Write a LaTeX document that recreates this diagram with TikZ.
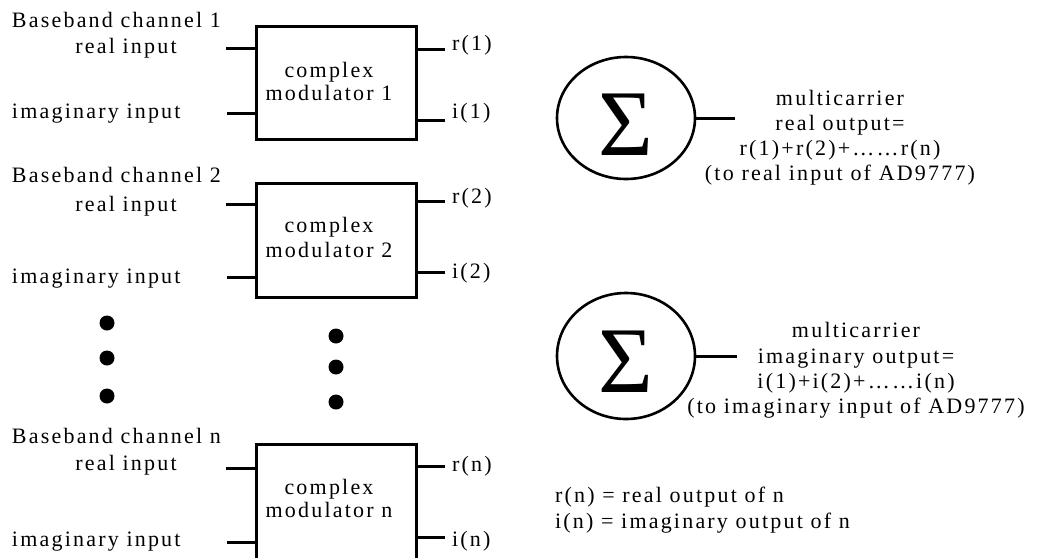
\documentclass[tikz,border=0pt]{standalone}
\usepackage{fontspec}
\setmainfont{Liberation Serif}[LetterSpace=10]
\newfontfamily\sigfont{Liberation Serif}
\usetikzlibrary{shapes.geometric}
\begin{document}
\begin{tikzpicture}[x=1pt,y=-1pt,
  lbl/.style={font=\fontsize{22}{25}\selectfont, inner sep=0pt, outer sep=0pt},
  modbox/.style={draw, line width=3pt, minimum width=160pt, inner sep=0pt, outer sep=0pt},
  wire/.style={line width=3pt},
  sumnode/.style={draw, ellipse, line width=2.6pt, minimum width=138pt, inner sep=0pt, outer sep=0pt},
  sigma/.style={font=\sigfont\fontsize{94}{94}\selectfont, inner sep=0pt},
  dotnode/.style={circle, fill, minimum size=15pt, inner sep=0pt}]
\useasboundingbox (0,0) rectangle (1043,557);
\clip (0,0) rectangle (1043,557);

% modulator boxes
\node[modbox, minimum height=113pt] (m1) at (336,82.5) {};
\node[modbox, minimum height=114pt] (m2) at (336,240) {};
\node[modbox, minimum height=126pt] (mn) at (336,507) {};

% box texts
\node[lbl, anchor=base] (c1a) at (329,77) {complex};
\node[lbl, anchor=base] (c1b) at (329,100) {modulator 1};
\node[lbl, anchor=base] (c2a) at (329,232) {complex};
\node[lbl, anchor=base] (c2b) at (329,257) {modulator 2};
\node[lbl, anchor=base] (cna) at (329,494) {complex};
\node[lbl, anchor=base] (cnb) at (329,517) {modulator n};

% input labels
\node[lbl, anchor=base west] (bb1) at (12,27) {Baseband channel 1};
\node[lbl, anchor=base] (r1in) at (126,53) {real input};
\node[lbl, anchor=base west] (i1in) at (12,118) {imaginary input};
\node[lbl, anchor=base west] (bb2) at (12,182) {Baseband channel 2};
\node[lbl, anchor=base] (r2in) at (126,211) {real input};
\node[lbl, anchor=base west] (i2in) at (12,283) {imaginary input};
\node[lbl, anchor=base west] (bbn) at (12,443) {Baseband channel n};
\node[lbl, anchor=base] (rnin) at (126,470) {real input};
\node[lbl, anchor=base west] (inin) at (12,546) {imaginary input};

% output labels
\node[lbl, anchor=base west] (o1r) at (452,50) {r(1)};
\node[lbl, anchor=base west] (o1i) at (452,118) {i(1)};
\node[lbl, anchor=base west] (o2r) at (452,203) {r(2)};
\node[lbl, anchor=base west] (o2i) at (452,278) {i(2)};
\node[lbl, anchor=base west] (onr) at (452,471) {r(n)};
\node[lbl, anchor=base west] (oni) at (452,546) {i(n)};

% wire end points
\coordinate (a1r) at (226,48);  \coordinate (a1i) at (227,113);
\coordinate (b1r) at (445,49);  \coordinate (b1i) at (445,120);
\coordinate (a2r) at (226,204); \coordinate (a2i) at (227,277);
\coordinate (b2r) at (445,201); \coordinate (b2i) at (445,272);
\coordinate (anr) at (226,468); \coordinate (ani) at (227,542);
\coordinate (bnr) at (445,466); \coordinate (bni) at (445,537);

\draw[wire] (a1r) -- (a1r -| m1.west);
\draw[wire] (a1i) -- (a1i -| m1.west);
\draw[wire] (m1.east |- b1r) -- (b1r);
\draw[wire] (m1.east |- b1i) -- (b1i);
\draw[wire] (a2r) -- (a2r -| m2.west);
\draw[wire] (a2i) -- (a2i -| m2.west);
\draw[wire] (m2.east |- b2r) -- (b2r);
\draw[wire] (m2.east |- b2i) -- (b2i);
\draw[wire] (anr) -- (anr -| mn.west);
\draw[wire] (ani) -- (ani -| mn.west);
\draw[wire] (mn.east |- bnr) -- (bnr);
\draw[wire] (mn.east |- bni) -- (bni);

% dots
\node[dotnode] (dl1) at (107,323) {};
\node[dotnode] (dl2) at (107,358) {};
\node[dotnode] (dl3) at (107,396) {};
\node[dotnode] (dm1) at (336,336) {};
\node[dotnode] (dm2) at (336,367) {};
\node[dotnode] (dm3) at (336,402) {};

% summers
\node[sumnode, minimum height=122pt] (s1) at (626,118) {};
\node[sigma, anchor=base] (sg1) at (626,155) {Σ};
\coordinate (e1) at (735,118);
\draw[wire] (s1.east) -- (e1);
\node[lbl, anchor=base] (t1a) at (840,105) {multicarrier};
\node[lbl, anchor=base] (t1b) at (840,130) {real output=};
\node[lbl, anchor=base] (t1c) at (840,155) {r(1)+r(2)+\ldots\ldots r(n)};
\node[lbl, anchor=base] (t1d) at (840,180) {(to real input of AD9777)};

\node[sumnode, minimum height=126pt] (s2) at (626,356) {};
\node[sigma, anchor=base] (sg2) at (626,392) {Σ};
\coordinate (e2) at (737,356);
\draw[wire] (s2.east) -- (e2);
\node[lbl, anchor=base] (t2a) at (856,337) {multicarrier};
\node[lbl, anchor=base] (t2b) at (856,363) {imaginary output=};
\node[lbl, anchor=base] (t2c) at (856,388) {i(1)+i(2)+\ldots\ldots i(n)};
\node[lbl, anchor=base] (t2d) at (856,413) {(to imaginary input of AD9777)};

% legend
\node[lbl, anchor=base west] (lg1) at (555,502) {r(n) = real output of n};
\node[lbl, anchor=base west] (lg2) at (555,528) {i(n) = imaginary output of n};
\end{tikzpicture}
\end{document}
